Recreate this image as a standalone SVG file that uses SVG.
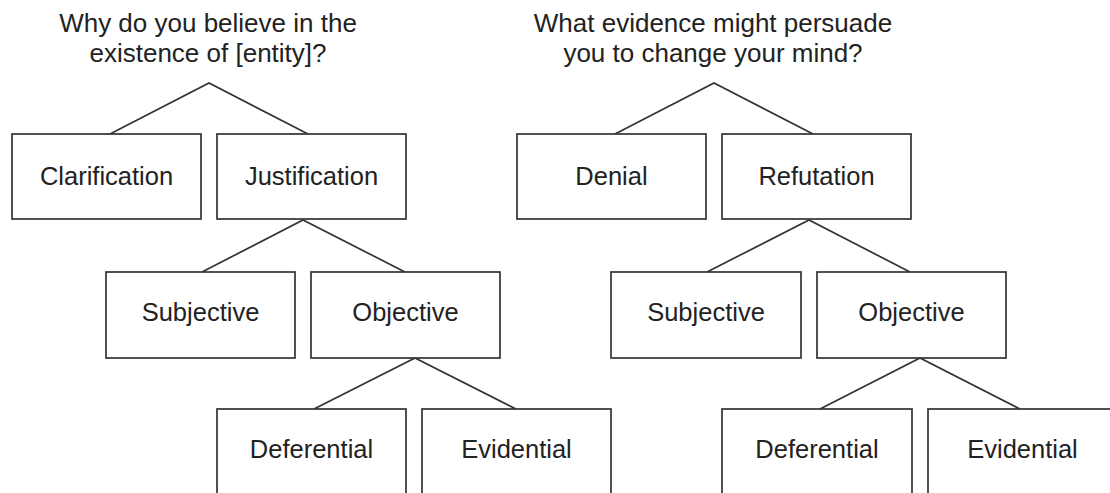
<svg xmlns="http://www.w3.org/2000/svg" width="1110" height="493" viewBox="0 0 1110 493">
<style>
  .box { fill: #ffffff; stroke: #333333; stroke-width: 1.7; }
  .lbl { font-family: "Liberation Sans", Arial, sans-serif; font-size: 25.5px; fill: #222222; text-anchor: middle; }
  .ttl { font-family: "Liberation Sans", Arial, sans-serif; font-size: 26px; fill: #222222; text-anchor: middle; }
  .edge { fill: none; stroke: #333333; stroke-width: 1.7; }
</style>
<rect x="0" y="0" width="1110" height="493" fill="#ffffff"/>

<g id="connectors">
  <polyline class="edge" points="110,134 209,83 308,134"/>
  <polyline class="edge" points="202,272 303,220 405,272"/>
  <polyline class="edge" points="314,409 415,358 516,409"/>
  <polyline class="edge" points="615,134 714,83 813,134"/>
  <polyline class="edge" points="707,272 809,220 910,272"/>
  <polyline class="edge" points="820,409 920,358 1020,409"/>
</g>

<g id="title-left">
  <text class="ttl" x="208" y="32">Why do you believe in the</text>
  <text class="ttl" x="208" y="62">existence of [entity]?</text>
</g>
<g id="title-right">
  <text class="ttl" x="713" y="32">What evidence might persuade</text>
  <text class="ttl" x="713" y="62">you to change your mind?</text>
</g>

<g id="clarification">
  <rect class="box" x="12" y="134" width="189" height="85"/>
  <text class="lbl" x="106.5" y="185">Clarification</text>
</g>
<g id="justification">
  <rect class="box" x="217" y="134" width="189" height="85"/>
  <text class="lbl" x="311.5" y="185">Justification</text>
</g>
<g id="subjective-left">
  <rect class="box" x="106" y="272" width="189" height="86"/>
  <text class="lbl" x="200.5" y="321">Subjective</text>
</g>
<g id="objective-left">
  <rect class="box" x="311" y="272" width="189" height="86"/>
  <text class="lbl" x="405.5" y="321">Objective</text>
</g>
<g id="deferential-left">
  <rect class="box" x="217" y="409" width="189" height="100"/>
  <text class="lbl" x="311.5" y="458">Deferential</text>
</g>
<g id="evidential-left">
  <rect class="box" x="422" y="409" width="189" height="100"/>
  <text class="lbl" x="516.5" y="458">Evidential</text>
</g>

<g id="denial">
  <rect class="box" x="517" y="134" width="189" height="85"/>
  <text class="lbl" x="611.5" y="185">Denial</text>
</g>
<g id="refutation">
  <rect class="box" x="722" y="134" width="189" height="85"/>
  <text class="lbl" x="816.5" y="185">Refutation</text>
</g>
<g id="subjective-right">
  <rect class="box" x="611" y="272" width="190" height="86"/>
  <text class="lbl" x="706" y="321">Subjective</text>
</g>
<g id="objective-right">
  <rect class="box" x="817" y="272" width="189" height="86"/>
  <text class="lbl" x="911.5" y="321">Objective</text>
</g>
<g id="deferential-right">
  <rect class="box" x="722" y="409" width="190" height="100"/>
  <text class="lbl" x="817" y="458">Deferential</text>
</g>
<g id="evidential-right">
  <rect class="box" x="928" y="409" width="200" height="100"/>
  <text class="lbl" x="1022.5" y="458">Evidential</text>
</g>
</svg>
